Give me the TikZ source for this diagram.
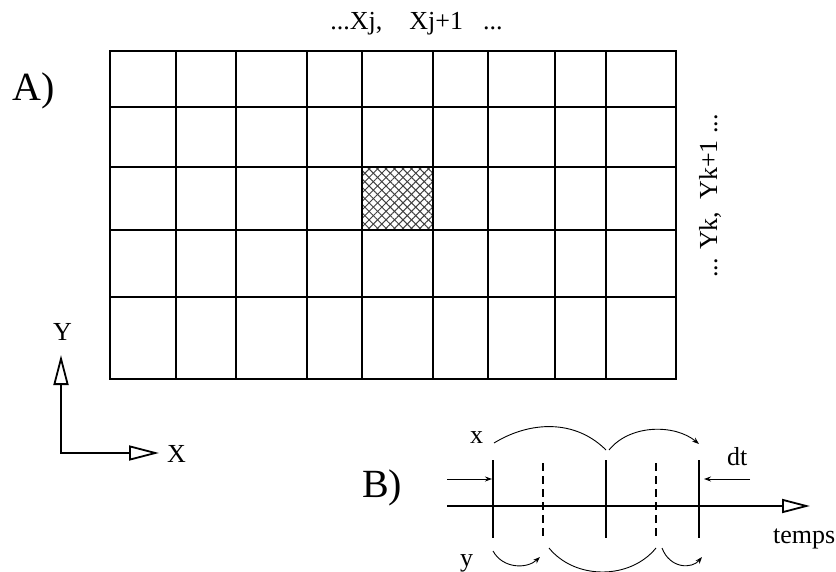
\documentclass[tikz,border=0pt]{standalone}
\usepackage{fontspec}
\setmainfont{Liberation Serif}
\usetikzlibrary{arrows.meta,patterns.meta}
\tikzset{openhead/.tip={Triangle[open,length=30pt,width=15pt,line width=1.8pt]},
  timehead/.tip={Triangle[open,length=28pt,width=14pt,line width=1.8pt]}}
\begin{document}
\begin{tikzpicture}[x=1pt,y=-1pt,
  gridline/.style={line width=1.8pt},
  axisline/.style={line width=1.8pt},
  tick/.style={line width=1.8pt},
  dashtick/.style={line width=1.8pt,dash pattern=on 8pt off 5pt},
  arcline/.style={line width=0.9pt},
  small/.style={-{Stealth[length=7pt,width=5pt]}},
  lab/.style={inner sep=0pt,anchor=base west,font=\fontsize{26}{30}\selectfont},
  big/.style={inner sep=0pt,anchor=base west,font=\fontsize{40}{44}\selectfont}]
\useasboundingbox (0,0) rectangle (836,572);
% grid
\foreach \x in {176,236,307,362,433,488,555,606}
  \draw[gridline] (\x,51) -- (\x,379);
\foreach \y in {107,167,230,297}
  \draw[gridline] (110,\y) -- (676,\y);
\draw[gridline] (110,51) rectangle (676,379);
% shaded cell
\fill[pattern={Lines[angle=45,distance=6pt,line width=1pt]},pattern color=black!75] (362,167) rectangle (433,230);
\fill[pattern={Lines[angle=-45,distance=6pt,line width=1pt]},pattern color=black!75] (362,167) rectangle (433,230);
\draw[line width=2.6pt] (362,167) rectangle (433,230);
% labels of A
\node[big] (A) at (12,101) {A)};
\node[inner sep=0pt,anchor=base,font=\fontsize{26}{30}\selectfont] (xlab) at (416.5,30) {...Xj,\hspace{27pt}Xj+1\hspace{20pt}...};
\node[inner sep=0pt,anchor=base,rotate=90,font=\fontsize{26}{30}\selectfont] (ylab) at (717,196) {... Yk,\hspace{12pt}Yk+1 ...};
% axes
\coordinate (O) at (61,453);
\coordinate (Ytip) at (61,355);
\coordinate (Xtip) at (159,453);
\draw[axisline,openhead-openhead] (Ytip) -- (O) -- (Xtip);
\node[inner sep=0pt,anchor=base,font=\fontsize{26}{30}\selectfont] (Y) at (62.5,341) {Y};
\node[lab] (X) at (167,462) {X};
% B
\node[big] (B) at (362,497) {B)};
\coordinate (t0) at (447,506);
\coordinate (t1) at (810,506);
\draw[axisline,-timehead] (t0) -- (t1);
\foreach \x/\n in {493/s1,606/s2,699/s3}{
  \coordinate (\n t) at (\x,460);
  \coordinate (\n b) at (\x,538);
  \draw[tick] (\n t) -- (\n b);
}
\foreach \x/\n in {543/d1,656/d2}{
  \coordinate (\n t) at (\x,463);
  \coordinate (\n b) at (\x,536);
  \draw[dashtick] (\n t) -- (\n b);
}
% dt arrows
\coordinate (dl0) at (447,479);
\coordinate (dl1) at (492,479);
\coordinate (dr0) at (750,479);
\coordinate (dr1) at (704,479);
\draw[arcline,small] (dl0) -- (dl1);
\draw[arcline,small] (dr0) -- (dr1);
% arcs
\coordinate (a1) at (494,443);
\coordinate (a2) at (606,450);
\coordinate (a3) at (609,450);
\coordinate (a4) at (699,444);
\draw[arcline] (a1) .. controls (530,421) and (575,419) .. (a2);
\draw[arcline,small] (a3) .. controls (630,424) and (675,424) .. (a4);
\coordinate (b1) at (493,551);
\coordinate (b2) at (540,557);
\coordinate (b3) at (549,548);
\coordinate (b4) at (656,548);
\coordinate (b5) at (662,548);
\coordinate (b6) at (702,557);
\draw[arcline,small] (b1) .. controls (503,569) and (527,569) .. (b2);
\draw[arcline] (b3) .. controls (575,580) and (630,580) .. (b4);
\draw[arcline,small] (b5) .. controls (670,569) and (692,569) .. (b6);
% labels of B
\node[lab] (xl) at (470,443) {x};
\node[lab] (yl) at (460,566) {y};
\node[lab] (dt) at (727,465) {dt};
\node[lab] (temps) at (773,543) {temps};
\end{tikzpicture}
\end{document}
